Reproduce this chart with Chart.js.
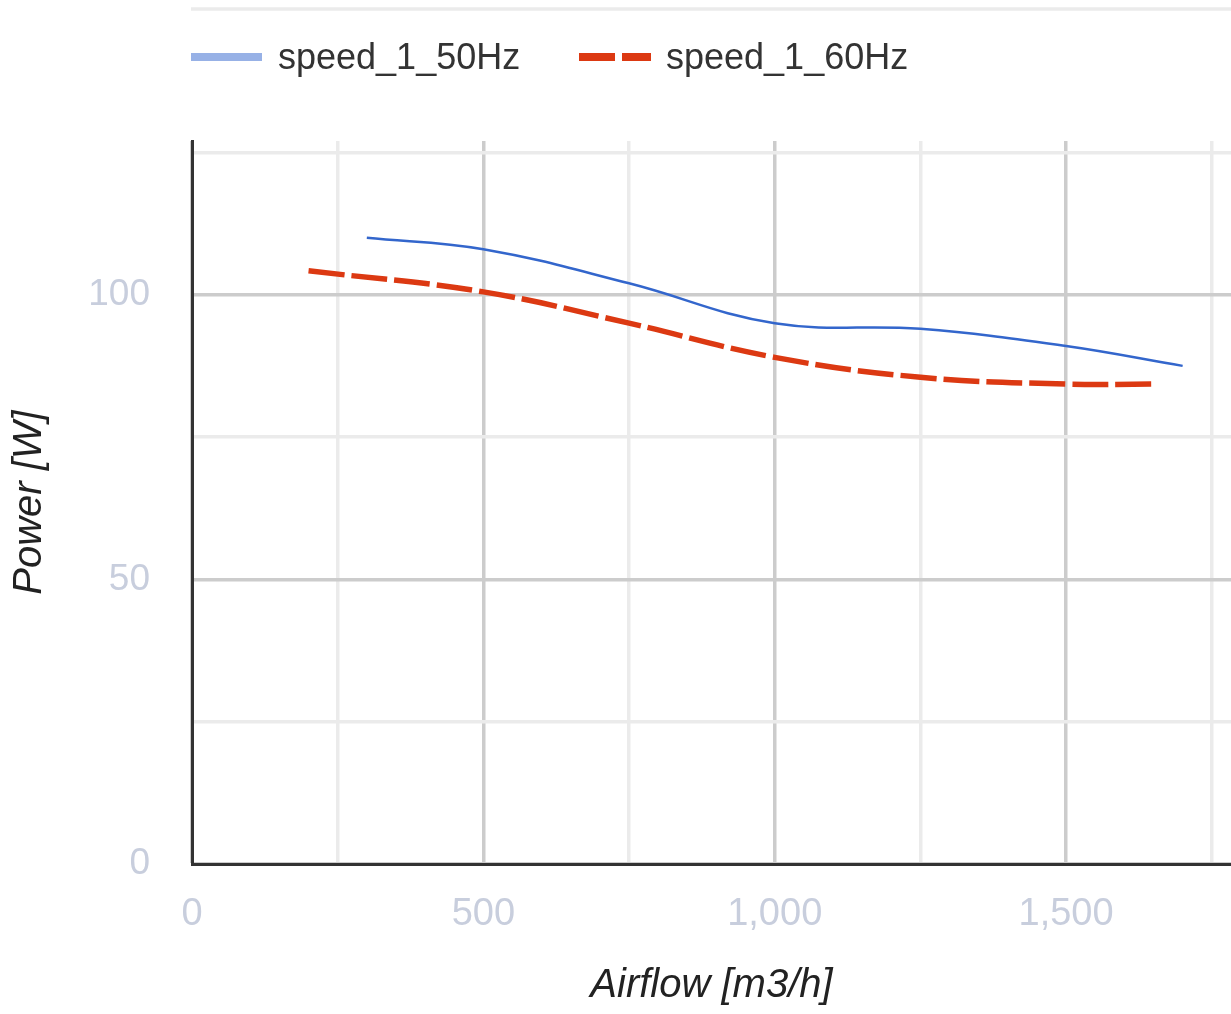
<!DOCTYPE html>
<html>
<head>
<meta charset="utf-8">
<style>
  html, body { margin: 0; padding: 0; background: #fff; }
  #wrap { position: relative; width: 1231px; height: 1014px; }
</style>
<script src="https://cdn.jsdelivr.net/npm/chart.js@4.4.1/dist/chart.umd.min.js"></script>
</head>
<body>
<div id="wrap"><canvas id="myChart" width="1231" height="1014"></canvas></div>
<script>
// values
var airflow50 = [300, 500, 750, 1000, 1250, 1500, 1700];
var power50   = [110, 108, 102, 95, 94, 91, 87.5];
var airflow60 = [200, 500, 750, 1000, 1250, 1500, 1650];
var power60   = [104.2, 100.5, 95, 89, 85.5, 84.3, 84.3];

var xTicks = [0, 250, 500, 750, 1000, 1250, 1500, 1750];
var yTicks = [0, 25, 50, 75, 100, 125];

var FONT = '"Liberation Sans", Arial, sans-serif';

function pts(xs, ys) {
    return xs.map(function (x, i) { return {x: x, y: ys[i]}; });
}

// legend drawn like the google one
var legendPlugin = {
    id: 'gLegend',
    afterDraw: function (chart) {
        var c = chart.ctx;
        var left = chart.chartArea.left;
        c.save();
        // faint line at the very top
        c.strokeStyle = '#ebebeb';
        c.lineWidth = 3.5;
        c.beginPath();
        c.moveTo(left - 1, 9);
        c.lineTo(chart.width, 9);
        c.stroke();

        c.lineWidth = 8;
        c.strokeStyle = '#97b1e6';
        c.beginPath();
        c.moveTo(191, 57);
        c.lineTo(262, 57);
        c.stroke();

        c.strokeStyle = '#dc3912';
        c.setLineDash([36, 7]);
        c.beginPath();
        c.moveTo(579, 57);
        c.lineTo(651, 57);
        c.stroke();
        c.setLineDash([]);

        c.fillStyle = '#333';
        c.font = '36px ' + FONT;
        c.textBaseline = 'middle';
        c.fillText('speed_1_50Hz', 278, 59);
        c.fillText('speed_1_60Hz', 666, 59);
        c.restore();
    }
};

var ctx = document.getElementById("myChart");
var myChart = new Chart(ctx, {
    type: 'line',
    data: {
        datasets: [{
            label: 'speed_1_50Hz',
            data: pts(airflow50, power50),
            borderColor: '#3366cc',
            borderWidth: 2.5,
            pointRadius: 0,
            tension: 0.4,
            fill: false
        }, {
            label: 'speed_1_60Hz',
            data: pts(airflow60, power60),
            borderColor: '#dc3912',
            borderWidth: 5.5,
            borderDash: [36, 7],
            pointRadius: 0,
            tension: 0.4,
            fill: false
        }]
    },
    options: {
        responsive: false,
        animation: false,
        layout: { padding: { top: 141, left: 0, right: 0, bottom: 0 } },
        plugins: {
            legend: { display: false },
            tooltip: { enabled: false }
        },
        scales: {
            x: {
                type: 'linear',
                min: 0,
                max: 1783,
                afterBuildTicks: function (s) { s.ticks = xTicks.map(function (v) { return {value: v}; }); },
                afterFit: function (s) {
                    s.height = 150;
                    s.paddingLeft = 0;
                    s.paddingRight = 0;
                },
                grid: {
                    drawTicks: false,
                    lineWidth: 3.5,
                    color: function (c) { return c.tick && c.tick.value % 500 === 0 ? '#cccccc' : '#ebebeb'; }
                },
                border: { display: true, color: '#333', width: 3 },
                ticks: {
                    padding: 28,
                    color: '#c8cedd',
                    font: { family: FONT, size: 38 },
                    maxRotation: 0,
                    autoSkip: false,
                    callback: function (v) { return v % 500 === 0 ? v.toLocaleString('en-US') : ''; }
                },
                title: {
                    display: true,
                    text: 'Airflow [m3/h]',
                    color: '#222',
                    font: { family: FONT, size: 40, style: 'italic' },
                    padding: { top: 1, bottom: 4 }
                }
            },
            y: {
                min: 0,
                max: 127,
                afterBuildTicks: function (s) { s.ticks = yTicks.map(function (v) { return {value: v}; }); },
                afterFit: function (s) { s.width = 192; },
                grid: {
                    drawTicks: false,
                    lineWidth: 3.5,
                    color: function (c) { return c.tick && c.tick.value % 50 === 0 ? '#cccccc' : '#ebebeb'; }
                },
                border: { display: true, color: '#333', width: 3 },
                ticks: {
                    padding: 42,
                    color: '#c8cedd',
                    font: { family: FONT, size: 37 },
                    autoSkip: false,
                    callback: function (v) { return v % 50 === 0 ? String(v) : ''; }
                },
                title: {
                    display: true,
                    text: 'Power [W]',
                    color: '#222',
                    font: { family: FONT, size: 40, style: 'italic' },
                    padding: { top: 6, bottom: 4 }
                }
            }
        }
    },
    plugins: [legendPlugin]
});
</script>
</body>
</html>
